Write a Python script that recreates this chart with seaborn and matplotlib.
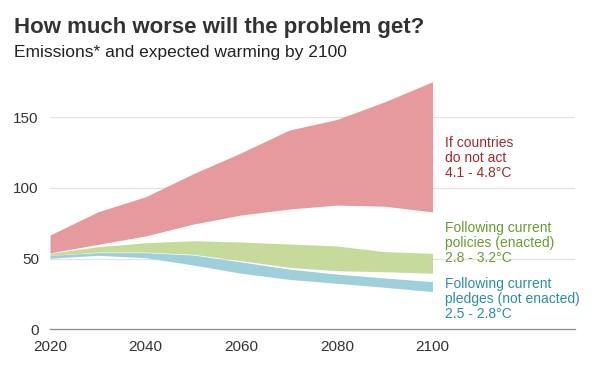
import matplotlib
matplotlib.use('Agg')
import matplotlib.pyplot as plt
import seaborn as sns

# ------------------------------------------------------------
# DATA (Gt CO2e)
# ------------------------------------------------------------
years = [2020, 2030, 2040, 2050, 2060, 2070, 2080, 2090, 2100]

no_action_low = [54, 60, 66, 74.4, 80.8, 85, 87.8, 87, 83]
no_action_high = [66.6, 83, 93.7, 110, 124.8, 140.8, 148.3, 160.8, 175]

policies_low = [52.3, 54.6, 54.6, 53, 48.5, 43.8, 41.4, 40.7, 39.6]
policies_high = [53.7, 58.4, 61.2, 62.6, 61.7, 60.3, 58.9, 54.9, 53.7]

pledges_low = [50.2, 52.3, 50.6, 45.4, 39.6, 35.3, 32.5, 29.7, 26.6]
pledges_high = [52.3, 54.2, 54.2, 52.5, 47.6, 42.6, 39.0, 36.3, 33.7]

yticks = [0, 50, 100, 150]
xticks = [2020, 2040, 2060, 2080, 2100]

labels = {
    'no_action': "If countries\ndo not act\n4.1 - 4.8°C",
    'policies': "Following current\npolicies (enacted)\n2.8 - 3.2°C",
    'pledges': "Following current\npledges (not enacted)\n2.5 - 2.8°C",
}

# ------------------------------------------------------------
# STYLE
# ------------------------------------------------------------
sns.set_theme(style='white')
plt.rcParams['font.family'] = ['Liberation Sans', 'DejaVu Sans']

red_fill, red_text = '#e69a9e', '#a3292c'
green_fill, green_text = '#c5da9b', '#6b9a2e'
blue_fill, blue_text = '#a0cfdc', '#2b8ea6'
dark = '#333333'
axis_grey = '#8a8a8a'

fig = plt.figure(figsize=(6, 3.77), dpi=100)
ax = fig.add_axes([0.0833, 0.1265, 0.875, 0.6755])

# grid lines drawn by hand so they span the full width
for v in yticks[1:]:
    ax.axhline(v, color='#e3e3e3', linewidth=0.9, zorder=0)

ax.fill_between(years, no_action_low, no_action_high, color=red_fill, linewidth=0, zorder=2)
ax.fill_between(years, pledges_low, pledges_high, color=blue_fill, linewidth=0, zorder=2)
ax.fill_between(years, policies_low, policies_high, color=green_fill, linewidth=0, zorder=3)

ax.set_xlim(2020, 2129.8)
ax.set_ylim(0, 180)
ax.set_xticks(xticks)
ax.set_yticks(yticks)
ax.tick_params(axis='y', length=0, pad=8, labelsize=11, labelcolor=dark)
ax.tick_params(axis='x', length=5, width=0.9, color=axis_grey, direction='in',
               pad=8, labelsize=11, labelcolor=dark)
ax.set_xlabel('')
ax.set_ylabel('')

sns.despine(ax=ax, left=True, top=True, right=True)
ax.spines['bottom'].set_color(axis_grey)
ax.spines['bottom'].set_linewidth(0.9)

# side labels
tx = 2102.6
ax.text(tx, 121.3, labels['no_action'], color=red_text, fontsize=10,
        va='center', ha='left', linespacing=1.1)
ax.text(tx, 61.2, labels['policies'], color=green_text, fontsize=10,
        va='center', ha='left', linespacing=1.1)
ax.text(tx, 21.4, labels['pledges'], color=blue_text, fontsize=10,
        va='center', ha='left', linespacing=1.1)

# title / subtitle
fig.text(14 / 600, 1 - 33 / 377, "How much worse will the problem get?",
         fontsize=16, fontweight='bold', color=dark, va='baseline', ha='left')
fig.text(14 / 600, 1 - 57 / 377, "Emissions* and expected warming by 2100",
         fontsize=12.5, color='#222222', va='baseline', ha='left')

plt.savefig('out.png', dpi=100)
